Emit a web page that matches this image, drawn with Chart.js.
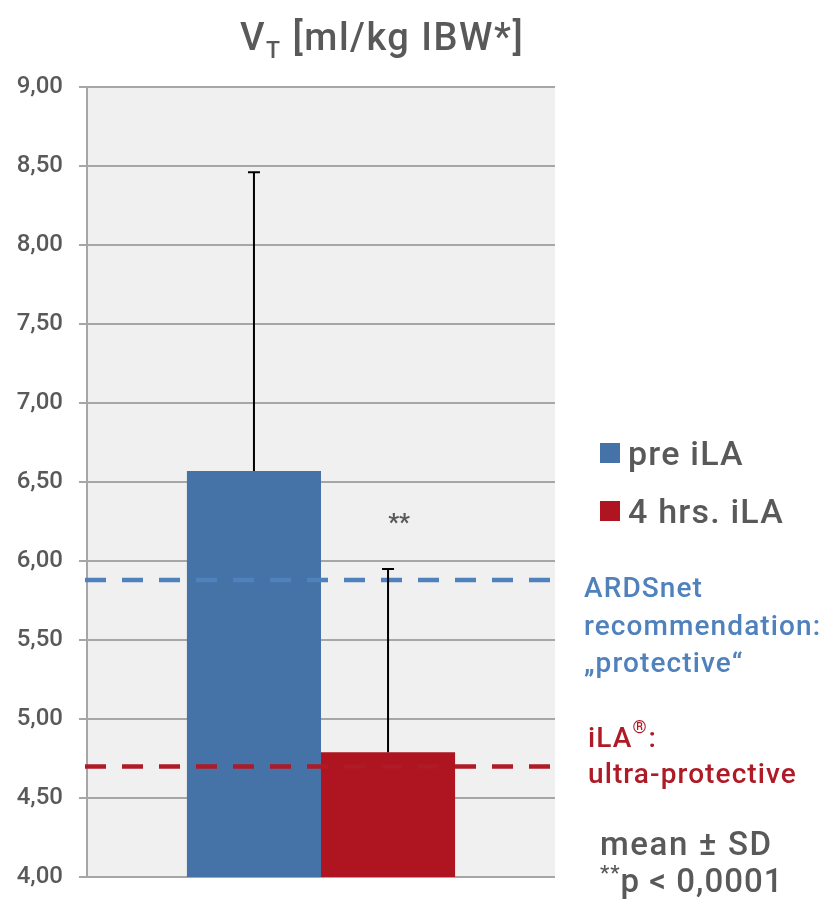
<!DOCTYPE html>
<html>
<head>
<meta charset="utf-8">
<script src="https://cdn.jsdelivr.net/npm/chart.js@4"></script>
<style>
  body { margin: 0; background: #fff; }
  canvas { display: block; }
</style>
</head>
<body>
<canvas id="myChart" width="823" height="903"></canvas>
<script>
// data
const categories = ['VT'];
const seriesNames = ['pre iLA', '4 hrs. iLA'];
const meanValues = [6.57, 4.79];
const sdValues = [1.89, 1.16];
const refValues = [5.88, 4.70];   // ARDSnet, iLA
const yTicks = [4.0, 4.5, 5.0, 5.5, 6.0, 6.5, 7.0, 7.5, 8.0, 8.5, 9.0];

const barColors = ['#4573a7', '#ae1520'];
const refColors = ['#4f81bd', '#ae1a26'];
const grey = '#595959';
const FONT = 'Roboto';

function txt(ctx, s, x, y, size, color, spacing, align) {
    ctx.font = '500 ' + size + 'px ' + FONT;
    ctx.letterSpacing = (spacing || 0) + 'px';
    ctx.fillStyle = color;
    ctx.textAlign = align || 'left';
    ctx.textBaseline = 'alphabetic';
    ctx.fillText(s, x, y);
    const w = ctx.measureText(s).width;
    ctx.letterSpacing = '0px';
    return w;
}

const decorPlugin = {
    id: 'decor',
    beforeDraw(chart) {
        const a = chart.chartArea, ctx = chart.ctx;
        ctx.save();
        ctx.fillStyle = '#f0f0f0';
        ctx.fillRect(a.left, a.top, a.right - a.left, a.bottom - a.top);
        ctx.restore();
    },
    afterDatasetsDraw(chart) {
        const ctx = chart.ctx, a = chart.chartArea, y = chart.scales.y;
        ctx.save();
        // reference lines
        refValues.forEach((v, i) => {
            const py = y.getPixelForValue(v);
            ctx.strokeStyle = refColors[i];
            ctx.lineWidth = 4.5;
            ctx.setLineDash([21, 16]);
            ctx.beginPath();
            ctx.moveTo(a.left - 2, py);
            ctx.lineTo(a.right + 2, py);
            ctx.stroke();
        });
        ctx.setLineDash([]);
        // error bars (upper only)
        meanValues.forEach((m, i) => {
            const bar = chart.getDatasetMeta(i).data[0];
            const top = y.getPixelForValue(m + sdValues[i]);
            ctx.strokeStyle = '#000';
            ctx.lineWidth = 2;
            ctx.beginPath();
            ctx.moveTo(bar.x, bar.y);
            ctx.lineTo(bar.x, top);
            ctx.moveTo(bar.x - 6, top);
            ctx.lineTo(bar.x + 6, top);
            ctx.stroke();
        });
        // significance mark above second bar
        const b2 = chart.getDatasetMeta(1).data[0];
        ctx.font = '700 24px ' + FONT;
        ctx.fillStyle = grey;
        ctx.textAlign = 'center';
        ctx.fillText('**', b2.x + 11, 530);
        ctx.restore();
    },
    afterDraw(chart) {
        const ctx = chart.ctx;
        ctx.save();
        // title V_T [ml/kg IBW*]
        let x = 240;
        x += txt(ctx, 'V', x, 50, 38, grey, 1.5);
        x += txt(ctx, 'T', x, 58, 23, grey, 1.5);
        txt(ctx, ' [ml/kg IBW*]', x, 50, 38, grey, 1.5);

        // legend
        const ly = [453, 511];
        seriesNames.forEach((n, i) => {
            ctx.fillStyle = barColors[i];
            ctx.fillRect(600, ly[i] - 10, 20, 20);
            txt(ctx, n, 628, ly[i] + 12, 34, grey, 1.2);
        });

        // reference line labels
        txt(ctx, 'ARDSnet', 584, 597, 28, refColors[0], 1.1);
        txt(ctx, 'recommendation:', 584, 635, 28, refColors[0], 1.1);
        txt(ctx, '\u201Eprotective\u201C', 584, 672, 28, refColors[0], 1.1);

        let w = txt(ctx, 'iLA', 588, 747, 28, refColors[1], 1.1);
        w += txt(ctx, '\u00AE', 588 + w, 733, 18, refColors[1]);
        txt(ctx, ':', 590 + w, 747, 28, refColors[1]);
        txt(ctx, 'ultra-protective', 588, 783, 28, refColors[1], 1.1);

        // footnote
        txt(ctx, 'mean \u00B1 SD', 600, 855, 33, grey, 1.6);
        w = txt(ctx, '**', 600, 880, 21, grey, 1);
        txt(ctx, 'p < 0,0001', 600 + w, 892, 33, grey, 1);
        ctx.restore();
    }
};

const ctx = document.getElementById('myChart').getContext('2d');
const chart = new Chart(ctx, {
    type: 'bar',
    data: {
        labels: categories,
        datasets: seriesNames.map((n, i) => ({
            label: n,
            data: [meanValues[i]],
            backgroundColor: barColors[i],
            borderWidth: 0,
            barPercentage: 1,
            categoryPercentage: 0.573
        }))
    },
    options: {
        responsive: false,
        animation: false,
        devicePixelRatio: 1,
        layout: { padding: { left: 0, top: 87, right: 268, bottom: 26 } },
        plugins: {
            legend: { display: false },
            tooltip: { enabled: false }
        },
        scales: {
            x: { display: false },
            y: {
                min: 4,
                max: 9,
                afterBuildTicks: scale => { scale.ticks = yTicks.map(v => ({ value: v })); },
                afterFit: scale => {
                    scale.width = 87;
                    scale.paddingTop = 0;
                    scale.paddingBottom = 0;
                },
                ticks: {
                    color: grey,
                    padding: 16,
                    font: { family: FONT, size: 24, weight: 500 },
                    callback: v => v.toFixed(2).replace('.', ',')
                },
                grid: { color: '#a6a6a6', lineWidth: 2, tickLength: 8 },
                border: { color: '#a6a6a6', width: 2 }
            }
        }
    },
    plugins: [decorPlugin]
});
</script>
</body>
</html>
